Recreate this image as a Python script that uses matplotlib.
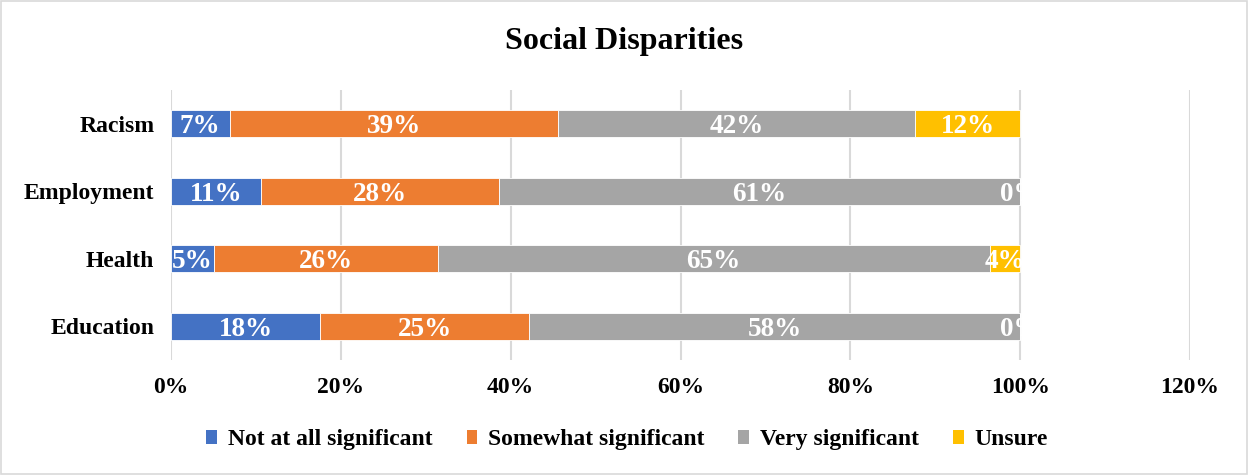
import numpy as np
import matplotlib
matplotlib.use("Agg")
import matplotlib.pyplot as plt
from matplotlib.patches import Patch, Rectangle

plt.rcParams['font.family'] = ['Liberation Serif', 'DejaVu Serif']
plt.rcParams['font.weight'] = 'bold'

# datos (porcentajes)
categories = ['Education', 'Health', 'Employment', 'Racism']
series_names = ['Not at all significant', 'Somewhat significant', 'Very significant', 'Unsure']
not_at_all = [17.6, 5.1, 10.6, 6.9]
somewhat = [24.6, 26.3, 28.0, 38.7]
very = [57.8, 65.0, 61.4, 42.0]
unsure = [0.0, 3.6, 0.0, 12.4]
colors = ['#4472C4', '#ED7D31', '#A5A5A5', '#FFC000']
xticks = [0, 20, 40, 60, 80, 100, 120]

fig = plt.figure(figsize=(12.49, 4.75), dpi=100)
ax = fig.add_axes([0.1369, 0.2421, 0.8159, 0.5684])

# marco del gráfico
fig.patches.append(Rectangle((0.001, 0.002), 0.997, 0.995, transform=fig.transFigure,
                             fill=False, edgecolor='#d9d9d9', linewidth=1.2))

y = np.arange(len(categories))
left = np.zeros(len(categories))
clip = Rectangle((0, -0.5), 100, 4, transform=ax.transData)

for name, vals, col in zip(series_names, [not_at_all, somewhat, very, unsure], colors):
    vals = np.array(vals)
    ax.barh(y, vals, left=left, height=0.4, color=col, edgecolor='white',
            linewidth=0.6, label=name, zorder=3)
    for yi, l, v in zip(y, left, vals):
        t = ax.text(l + v / 2, yi, f'{v:.0f}%', ha='center', va='center_baseline',
                    color='white', fontsize=19.5, fontweight='bold', zorder=4)
        t.set_clip_path(clip)
    left = left + vals

ax.set_xlim(0, 120)
ax.set_ylim(-0.5, 3.5)
ax.set_xticks(xticks)
ax.set_xticklabels([f'{v}%' for v in xticks])
ax.set_yticks(y)
ax.set_yticklabels(categories)
ax.tick_params(axis='both', length=0, labelsize=17)
ax.tick_params(axis='x', pad=12)
ax.tick_params(axis='y', pad=12)
ax.xaxis.grid(True, color='#d9d9d9', linewidth=1.5, zorder=0)
ax.set_axisbelow(True)
for s in ax.spines.values():
    s.set_visible(False)

fig.text(0.5, 0.912, 'Social Disparities', ha='center', va='center',
         fontsize=23, fontweight='bold')

handles = [Patch(facecolor=c, edgecolor='none') for c in colors]
fig.legend(handles, series_names, loc='center', bbox_to_anchor=(0.502, 0.074), ncol=4,
           frameon=False, fontsize=17, handlelength=0.45, handleheight=0.55,
           handletextpad=0.45, columnspacing=1.45)

fig.savefig('out.png', dpi=100)
